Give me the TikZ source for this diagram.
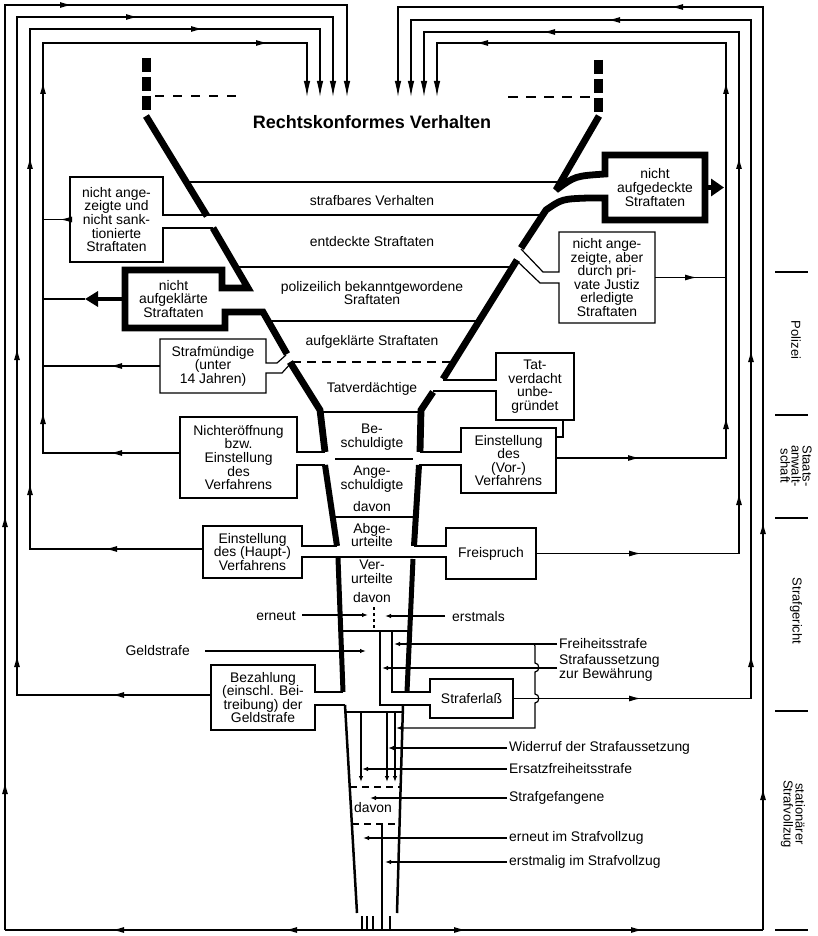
\documentclass[tikz,border=0pt]{standalone}
\usepackage{fontspec}
\setmainfont{Liberation Sans}
\usetikzlibrary{arrows.meta}

\tikzset{
  flow/.style={line width=1.2pt},
  tipa/.style={-{Latex[length=12pt,width=6pt]}},
  endtip/.style={-{Latex[length=16pt,width=6.5pt]}},
  smalltip/.style={-{Latex[length=6pt,width=4.5pt]}},
  wall/.style={line width=6.8pt, line join=miter, miter limit=3},
  lbl/.style={font=\fontsize{13.9}{13.6}\selectfont, align=center, inner sep=0pt},
  side/.style={lbl, anchor=west, inner xsep=2pt},
  stage/.style={font=\fontsize{13}{11}\selectfont, align=center, inner sep=0pt, rotate=-90},
}
% arrow heads placed on a line, tip at (x,y)
\newcommand{\tipup}[2]{\draw[flow,tipa] (#1,#2+12) -- (#1,#2);}
\newcommand{\tiplt}[2]{\draw[flow,tipa] (#1+12,#2) -- (#1,#2);}
\newcommand{\tiprt}[2]{\draw[flow,tipa] (#1-12,#2) -- (#1,#2);}

\begin{document}
\begin{tikzpicture}[x=1pt,y=-1pt]
\useasboundingbox (0,0) rectangle (818,936);

\node[font=\bfseries\fontsize{18}{20}\selectfont] (rkv) at (372,122) {Rechtskonformes Verhalten}; % title

% open top of the funnel
\draw[line width=9pt, dash pattern=on 14pt off 5pt] (146,58) -- (146,110); % left
\draw[line width=9pt, dash pattern=on 14pt off 5pt] (598,60) -- (598,112); % right
\draw[flow, dash pattern=on 9pt off 9pt] (155,96) -- (240,96);
\draw[flow, dash pattern=on 10pt off 8pt] (508,97) -- (592,97);

% left wall
\draw[wall] (146,116) -- (207,216);
\draw[wall] (213,228) -- (248,288) -- (222,288) -- (222,270) -- (125,270) -- (125,328) -- (225,328) -- (225,312) -- (263,312) -- (287,354); % nicht aufgeklaerte
\draw[wall] (290,362) -- (320,410) -- (325,452);
\draw[wall, line width=6pt] (325,465) -- (337,546);
\draw[wall, line width=5pt] (338,558) -- (343,692);
\draw[wall, line width=2.5pt] (345,705) -- (357,913);
% right wall
\draw[wall] (599,116) -- (556,190) .. controls (575,176) .. (605,174) -- (605,155) -- (705,155) -- (705,220) -- (605,220) -- (605,198) -- (588,198) .. controls (562,199) .. (546,210) -- (521,248); % nicht aufgedeckte
\draw[wall] (517,260) -- (443,379);
\draw[wall] (433,392) -- (421,410) -- (420,452);
\draw[wall, line width=6pt] (419,465) -- (414,546);
\draw[wall, line width=5pt] (413,559) -- (407,692);
\draw[wall, line width=2.5pt] (403,705) -- (397,913);

% bands and side boxes
\draw[flow] (187,182) -- (560,182);
\draw[flow] (542,215) -- (163,215) -- (163,177) -- (70,177) -- (70,262) -- (163,262) -- (163,228) -- (213,228);
\draw[flow] (236,267) -- (513,267);
\draw[flow] (268,321) -- (479,321);
\draw[flow, dash pattern=on 9pt off 6pt] (292,362) -- (452,362);
\draw[flow] (286,355) -- (277,363) -- (266,363) -- (266,339) -- (160,339) -- (160,393) -- (266,393) -- (266,373) -- (282,373) -- (291,363);
\draw[flow] (521,249) -- (543,272) -- (559,272) -- (559,232) -- (655,232) -- (655,323) -- (559,323) -- (559,283) -- (540,283) -- (517,261);
\draw[flow] (443,380) -- (496,380) -- (496,353) -- (574,353) -- (574,420) -- (496,420) -- (496,391) -- (433,391);
\draw[flow] (322,412) -- (420,412);
\draw[flow] (325,452) -- (297,452) -- (297,417) -- (180,417) -- (180,498) -- (297,498) -- (297,465) -- (325,465);
\draw[flow] (420,452) -- (461,452) -- (461,428) -- (556,428) -- (556,493) -- (461,493) -- (461,465) -- (419,465);
\draw[flow] (335,459) -- (413,459);
\draw[flow] (333,517) -- (416,517);
\draw[flow] (337,546) -- (302,546) -- (302,526) -- (203,526) -- (203,578) -- (302,578) -- (302,557) -- (446,557) -- (446,579) -- (536,579) -- (536,528) -- (446,528) -- (446,546) -- (414,546);
\draw[flow] (341,631) -- (410,631);
\draw[flow] (343,692) -- (315,692) -- (315,665) -- (211,665) -- (211,730) -- (315,730) -- (315,705) -- (345,705);
\draw[flow] (392,631) -- (392,692) -- (430,692) -- (430,679) -- (513,679) -- (513,718) -- (430,718) -- (430,705) -- (380,705) -- (380,631);
\draw[flow] (346,712) -- (402,712);
\draw[flow, dash pattern=on 7pt off 5pt] (350,787) -- (400,787);
\draw[flow, dash pattern=on 7pt off 5pt] (352,824) -- (399,824);
\draw[flow, dash pattern=on 3pt off 3pt] (374,607) -- (374,630);

% texts in the funnel
\node[lbl] (strafb) at (372,201) {strafbares Verhalten};
\node[lbl] (entd) at (372,242) {entdeckte Straftaten};
\node[lbl] (polb) at (372,293) {polizeilich bekanntgewordene\\Sraftaten};
\node[lbl] (aufg) at (372,342) {aufgeklärte Straftaten};
\node[lbl] (tatv) at (372,389) {Tatverdächtige};
\node[lbl] (besch) at (372,437) {Be-\\schuldigte};
\node[lbl] (angesch) at (372,479) {Ange-\\schuldigte};
\node[lbl] (davona) at (372,507) {davon};
\node[lbl] (abgeu) at (372,535) {Abge-\\urteilte};
\node[lbl] (veru) at (372,572) {Ver-\\urteilte};
\node[lbl] (davonb) at (372,598) {davon};
\node[lbl] (davonc) at (373,808) {davon};

% side boxes
\node[lbl, minimum width=93, minimum height=85] (nasbox) at (116.5,219.5) {nicht ange-\\zeigte und\\nicht sank-\\tionierte\\Straftaten};
\node[lbl, minimum width=97, minimum height=58] (naufbox) at (173.5,299) {nicht\\aufgeklärte\\Straftaten};
\node[lbl, minimum width=106, minimum height=54] (smbox) at (213,366) {Strafmündige\\(unter\\14 Jahren)};
\node[lbl, minimum width=117, minimum height=81] (neobox) at (238.5,457.5) {Nichteröffnung\\bzw.\\Einstellung\\des\\Verfahrens};
\node[lbl, minimum width=99, minimum height=52] (ehbox) at (252.5,552) {Einstellung\\des (Haupt-)\\Verfahrens};
\node[lbl, minimum width=104, minimum height=65] (bezbox) at (263,697.5) {Bezahlung\\(einschl. Bei-\\treibung) der\\Geldstrafe};
\node[lbl, minimum width=100, minimum height=65] (naufgedbox) at (655,187.5) {nicht\\aufgedeckte\\Straftaten};
\node[lbl, minimum width=96, minimum height=91] (privbox) at (607,277.5) {nicht ange-\\zeigte, aber\\durch pri-\\vate Justiz\\erledigte\\Straftaten};
\node[lbl, minimum width=78, minimum height=67] (tvbox) at (535,386.5) {Tat-\\verdacht\\unbe-\\gründet};
\node[lbl, minimum width=95, minimum height=65] (evbox) at (508.5,460.5) {Einstellung\\des\\(Vor-)\\Verfahrens};
\node[lbl, minimum width=90, minimum height=51] (fsbox) at (491,553.5) {Freispruch};
\node[lbl, minimum width=83, minimum height=39] (selbox) at (471.5,698.5) {Straferlaß};
\draw[flow] (563,420) |- (evbox.east |- 0,437); % Tatverdacht -> Einstellung

% loops back to Rechtskonformes Verhalten
\draw[flow,endtip] (5,930) -- (5,5) -| (347,97);
\draw[flow,endtip] (bezbox.west |- 0,695) -| (17,17) -| (333,97);
\draw[flow,endtip] (ehbox.west |- 0,549) -| (30,29) -| (320,97);
\draw[flow,endtip] (neobox.west |- 0,453) -| (43,43) -| (307,97);
\draw[flow,endtip] (763,930) -- (763,7) -| (398,97);
\draw[flow,endtip] (selbox.east) -| (751,20) -| (411,97);
\draw[flow,endtip] (fsbox.east) -| (739,32) -| (424,97);
\draw[flow,endtip] (evbox.east |- 0,458) -| (726,43) -| (437,97);
\draw[flow] (nasbox.west) -- (43,219.5);
\draw[flow] (smbox.west) -- (43,366);
\draw[flow] (privbox.east) -- (726,277.5);
\draw[line width=4.5pt, -{Triangle[length=13pt,width=15pt]}] (naufbox.west) -- (85,299); % thick arrow
\draw[flow] (85,299) -- (43,299);
\draw[line width=5pt, -{Triangle[length=13pt,width=17pt]}] (naufgedbox.east) -- (724,187.5); % thick arrow
\draw[flow] (5,930) -- (763,930); % bottom

% arrow heads on the loops
\tiprt{72}{5} \tiprt{138}{17} \tiprt{203}{29} \tiprt{268}{43}
\tiplt{671}{7} \tiplt{608}{20} \tiplt{543}{32} \tiplt{476}{43}
\tipup{43}{82} \tipup{43}{412} \tipup{30}{157} \tipup{30}{483}
\tipup{17}{348} \tipup{17}{655} \tipup{5}{515} \tipup{5}{782}
\tipup{726}{82} \tipup{726}{417} \tipup{739}{157} \tipup{739}{493}
\tipup{751}{350} \tipup{751}{655} \tipup{763}{522} \tipup{763}{788}
\tiplt{60}{219.5} \tiplt{110}{366} \tiplt{110}{453} \tiplt{105}{549} \tiplt{112}{695}
\tiprt{697}{277.5} \tiprt{640}{458} \tiprt{641}{553.5} \tiprt{641}{698.5}
\tiplt{112}{930} \tiplt{285}{930} \tiprt{466}{930} \tiprt{643}{930}

% sentences and sanctions
\node[lbl, anchor=east] (erneut) at (296,616) {erneut};
\draw[flow,smalltip] (302,615) -- (368,615);
\node[lbl, anchor=west] (erstmals) at (452,617) {erstmals};
\draw[flow,smalltip] (445,616) -- (385,616);
\node[lbl, anchor=east] (geld) at (190,651) {Geldstrafe};
\draw[flow,smalltip] (205,651) -- (366,651);
\node[side] (frei) at (557,644) {Freiheitsstrafe};
\draw[flow,smalltip] (frei.west) -- (394,644);
\node[side, align=left] (ausset) at (557,668) {Strafaussetzung\\zur Bewährung};
\draw[flow,smalltip] (ausset.west) -- (382,668);
\draw[flow,smalltip] (531,644) .. controls (535,644) .. (535,649) -- (535,663) .. controls (540,663) and (540,672) .. (535,672) -- (535,694) .. controls (540,694) and (540,703) .. (535,703) -- (535,728) -- (396,728); % Widerruf path
\node[side] (wid) at (507,748) {Widerruf der Strafaussetzung};
\draw[flow,smalltip] (wid.west) -- (388,748);
\node[side] (ersatz) at (507,769) {Ersatzfreiheitsstrafe};
\draw[flow,smalltip] (ersatz.west) -- (362,769);
\node[side] (gef) at (507,798) {Strafgefangene};
\draw[flow,smalltip] (gef.west) -- (370,798);
\node[side] (erneutvz) at (507,838) {erneut im Strafvollzug};
\draw[flow,smalltip] (erneutvz.west) -- (363,838);
\node[side] (erstvz) at (507,862) {erstmalig im Strafvollzug};
\draw[flow,smalltip] (erstvz.west) -- (385,862);
\draw[flow,smalltip] (361,712) -- (361,782);
\draw[flow,smalltip] (387,712) -- (387,782);
\draw[flow,smalltip] (395,712) -- (395,782);
\draw[flow] (382,824) -- (382,930);
\foreach \x in {362,367,373,390} \draw[flow] (\x,916) -- (\x,930); % outflow

% stages
\foreach \y in {272,415,518,711,930} \draw[flow] (775,\y) -- (808,\y);
\node[stage] (polizei) at (796,340) {Polizei};
\node[stage] (staats) at (796,466) {Staats-\\anwalt-\\schaft};
\node[stage] (gericht) at (796,611) {Strafgericht};
\node[stage, font=\fontsize{13}{12}\selectfont] (vollzug) at (793,814) {stationärer\\Strafvollzug};
\end{tikzpicture}
\end{document}
